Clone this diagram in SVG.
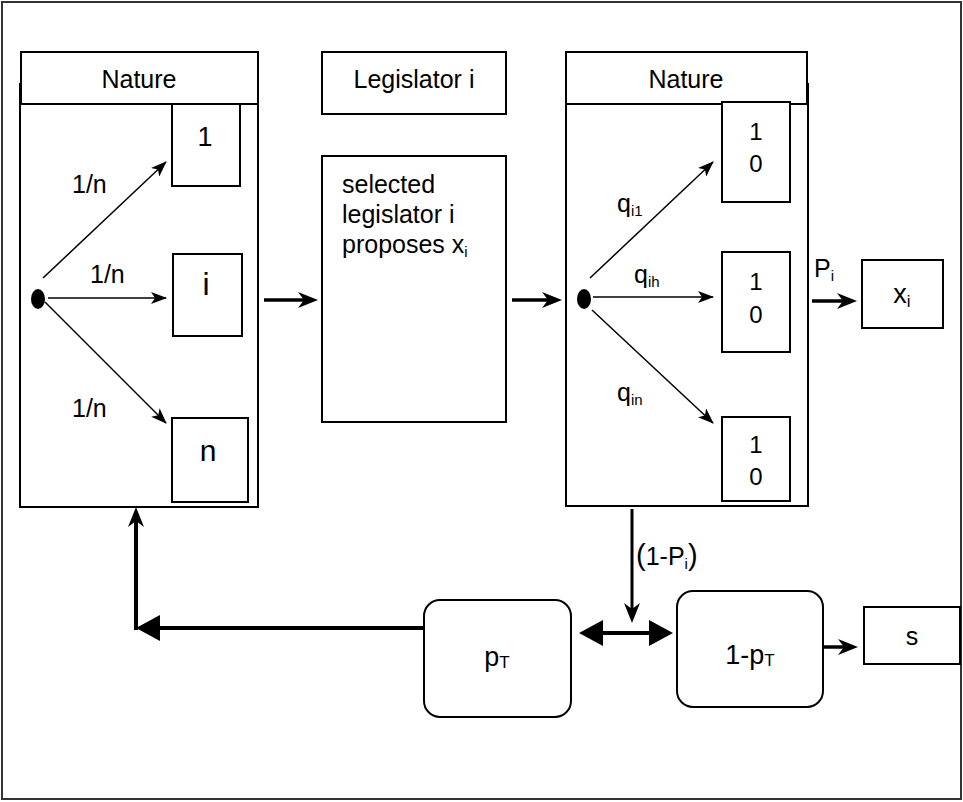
<svg xmlns="http://www.w3.org/2000/svg" width="963" height="802" viewBox="0 0 963 802">
<defs>
<style>
.box{fill:#fff;stroke:#000;stroke-width:2}
.t{font-family:"Liberation Sans",Arial,sans-serif;font-size:25px;fill:#000}
.b{font-family:"Liberation Sans",Arial,sans-serif;font-size:25px;fill:#000}
.sub{font-size:15px}
.thin{stroke:#000;stroke-width:1.5;fill:none;marker-end:url(#ah)}
.thick{stroke:#000;stroke-width:3.5;fill:none;marker-end:url(#ahb)}
</style>
<marker id="ah" viewBox="0 0 16 12" markerUnits="userSpaceOnUse" markerWidth="16" markerHeight="12" refX="15" refY="6" orient="auto">
<path d="M0,0 L16,6 L0,12 L4,6 z" fill="#000"/>
</marker>
<marker id="ahb" viewBox="0 0 20 16" markerUnits="userSpaceOnUse" markerWidth="20" markerHeight="16" refX="10" refY="8" orient="auto">
<path d="M0,0 L20,8 L0,16 L6,8 z" fill="#000"/>
</marker>
<marker id="aht" viewBox="0 0 24 26" markerUnits="userSpaceOnUse" markerWidth="24" markerHeight="26" refX="4" refY="13" orient="auto-start-reverse">
<path d="M0,0 L24,13 L0,26 z" fill="#000"/>
</marker>
</defs>
<rect x="2" y="2" width="959" height="797" fill="#fff" stroke="#333" stroke-width="2"/>

<g id="nature-left">
<rect class="box" x="20" y="84" width="238" height="423"/>
<rect class="box" x="21" y="52" width="237" height="52"/>
<text class="t" x="139" y="88" text-anchor="middle">Nature</text>
<ellipse cx="38" cy="299" rx="7" ry="10" fill="#000"/>
</g>
<g id="leg-1"><rect class="box" x="172" y="104" width="68" height="82"/><text class="t" x="205" y="146" text-anchor="middle" style="font-size:27px">1</text></g>
<g id="leg-i"><rect class="box" x="173" y="254" width="69" height="82"/><text class="t" x="206" y="295" text-anchor="middle" style="font-size:32px">i</text></g>
<g id="leg-n"><rect class="box" x="172" y="418" width="76" height="84"/><text class="t" x="208" y="461" text-anchor="middle" style="font-size:30px">n</text></g>

<g id="legislator-header"><rect class="box" x="322" y="52" width="184" height="62"/><text class="t" x="414" y="88" text-anchor="middle">Legislator i</text></g>
<g id="proposal">
<rect class="box" x="322" y="156" width="184" height="266"/>
<text class="t" x="342" y="193">selected</text>
<text class="t" x="342" y="223">legislator i</text>
<text class="t" x="342" y="253">proposes<tspan dx="7">x</tspan><tspan class="sub" dy="4">i</tspan></text>
</g>

<g id="nature-right">
<rect class="box" x="566" y="84" width="242" height="422"/>
<rect class="box" x="566" y="52" width="241" height="52"/>
<text class="t" x="686" y="88" text-anchor="middle">Nature</text>
<ellipse cx="584" cy="299" rx="7" ry="10" fill="#000"/>
</g>
<g id="vote-1"><rect class="box" x="722" y="102" width="68" height="100"/><text class="t" x="756" y="140" text-anchor="middle" style="font-size:24px">1</text><text class="t" x="756" y="172" text-anchor="middle" style="font-size:24px">0</text></g>
<g id="vote-h"><rect class="box" x="722" y="252" width="68" height="100"/><text class="t" x="756" y="290" text-anchor="middle" style="font-size:24px">1</text><text class="t" x="756" y="323" text-anchor="middle" style="font-size:24px">0</text></g>
<g id="vote-n"><rect class="box" x="722" y="417" width="68" height="84"/><text class="t" x="756" y="453" text-anchor="middle" style="font-size:24px">1</text><text class="t" x="756" y="485" text-anchor="middle" style="font-size:24px">0</text></g>

<g id="outcome-x"><rect class="box" x="862" y="260" width="81" height="68"/><text class="t" x="902" y="303" text-anchor="middle" style="font-size:27px">x<tspan class="sub" dy="4" style="font-size:17px">i</tspan></text></g>

<g id="pT"><rect class="box" x="424" y="600" width="147" height="117" rx="16"/><text class="b" x="497" y="666" text-anchor="middle" style="font-size:27px">p<tspan class="sub" dy="2" style="font-size:17px">T</tspan></text></g>
<g id="one-minus-pT"><rect class="box" x="677" y="591" width="146" height="116" rx="16"/><text class="b" x="750" y="664" text-anchor="middle" style="font-size:27px">1-p<tspan class="sub" dy="2" style="font-size:17px">T</tspan></text></g>
<g id="status-quo"><rect class="box" x="864" y="607" width="96" height="57"/><text class="b" x="912" y="645" text-anchor="middle">s</text></g>

<g id="connectors">
<line class="thin" x1="43" y1="278" x2="166" y2="162"/>
<line class="thin" x1="48" y1="298" x2="166" y2="298"/>
<line class="thin" x1="45" y1="302" x2="166" y2="423"/>
<line class="thin" x1="590" y1="278" x2="713" y2="162"/>
<line class="thin" x1="593" y1="297" x2="713" y2="297"/>
<line class="thin" x1="592" y1="310" x2="713" y2="423"/>
<line class="thick" x1="264" y1="300" x2="308" y2="300"/>
<line class="thick" x1="512" y1="300" x2="552" y2="300"/>
<line class="thick" x1="812" y1="301" x2="847" y2="301"/>
<line class="thick" x1="823" y1="647" x2="848" y2="647"/>
<line class="thick" x1="632" y1="509" x2="632" y2="613" style="stroke-width:3"/>
<line class="thick" x1="136" y1="630" x2="136" y2="517" style="stroke-width:4"/>
<line x1="424" y1="628" x2="156" y2="628" stroke="#000" stroke-width="4" marker-end="url(#aht)"/>
<line x1="599" y1="633" x2="653" y2="633" stroke="#000" stroke-width="4" marker-start="url(#aht)" marker-end="url(#aht)"/>
<text class="t" x="72" y="193">1/n</text>
<text class="t" x="90" y="283">1/n</text>
<text class="t" x="72" y="417">1/n</text>
<text class="t" x="617" y="212">q<tspan class="sub" dy="4">i1</tspan></text>
<text class="t" x="634" y="283">q<tspan class="sub" dy="4">ih</tspan></text>
<text class="t" x="617" y="401">q<tspan class="sub" dy="4">in</tspan></text>
<text class="t" x="814" y="277">P<tspan class="sub" dy="4">i</tspan></text>
<text class="b" x="636" y="565"><tspan style="font-size:29px">(</tspan>1-P<tspan class="sub" dy="4">i</tspan><tspan dy="-4" style="font-size:29px">)</tspan></text>
</g>
</svg>
